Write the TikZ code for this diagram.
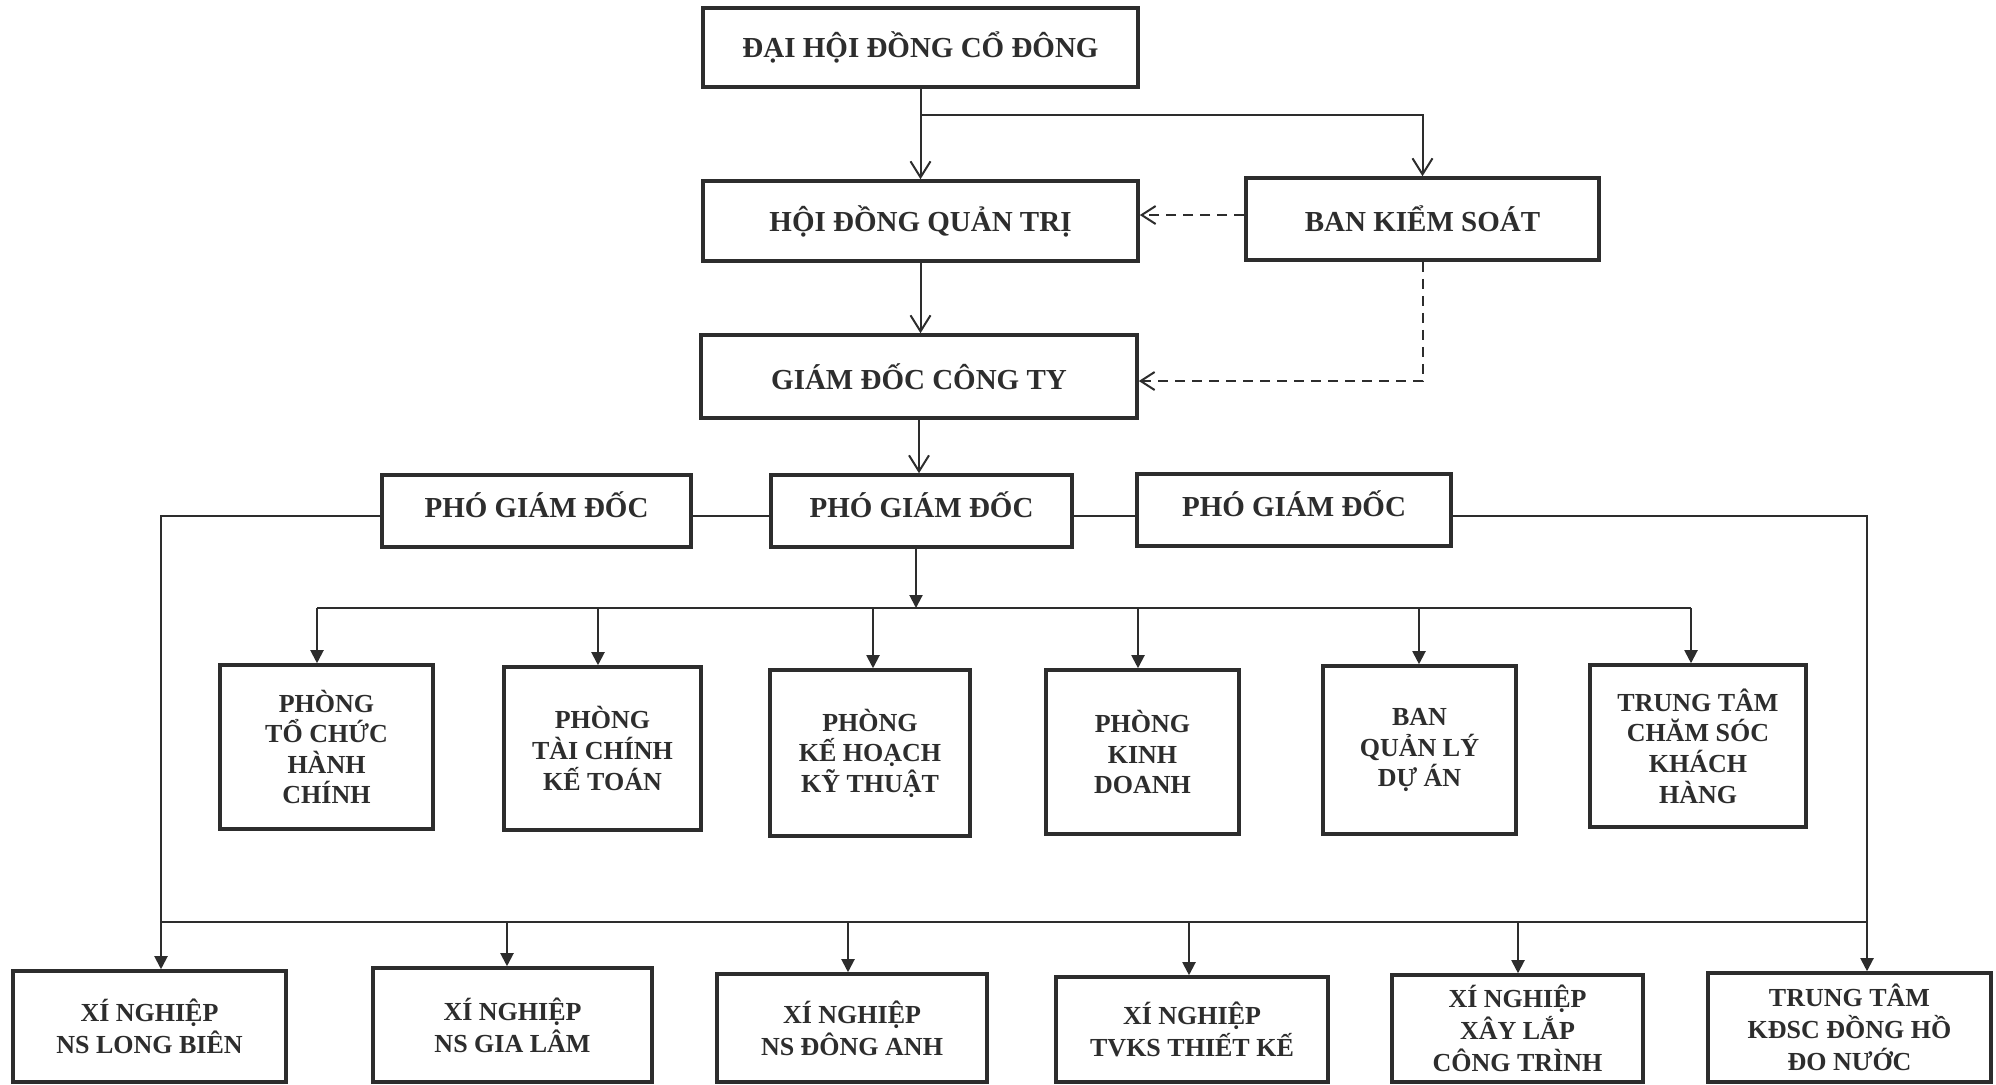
\documentclass[tikz,border=0pt]{standalone}
\usepackage{fontspec}
\setmainfont{Liberation Serif}
\usetikzlibrary{arrows.meta}
\definecolor{ink}{RGB}{45,45,45}
\begin{document}
\begin{tikzpicture}[x=0.5pt,y=-0.5pt,
  box/.style={draw=ink, line width=1.8pt, align=center, inner sep=0pt, text=ink,
    font=\bfseries\fontsize{14.5}{17}\selectfont},
  dept/.style={box, font=\bfseries\fontsize{13}{15.3}\selectfont},
  unitbox/.style={box, font=\bfseries\fontsize{13}{16}\selectfont},
  conn/.style={line width=1pt, draw=ink},
  varrow/.style={conn, -{Straight Barb[length=8pt,width=10pt,line width=1pt]}},
  farrow/.style={conn, -{Triangle[length=6.5pt,width=6.5pt]}},
  darrow/.style={conn, dash pattern=on 5pt off 3.5pt, -{Straight Barb[length=7pt,width=9pt,line width=1pt]}}
]
\useasboundingbox (0,0) rectangle (1996,1084);
\fill[white] (0,0) rectangle (1996,1084);

% top level
\node[box, minimum width=217.5pt, minimum height=39.5pt] (dh) at (920.5,47.5) {ĐẠI HỘI ĐỒNG CỔ ĐÔNG};
\node[box, minimum width=217.5pt, minimum height=40pt] (hd) at (920.5,221) {HỘI ĐỒNG QUẢN TRỊ};
\node[box, minimum width=176.5pt, minimum height=41pt] (bks) at (1422.5,219) {BAN KIỂM SOÁT};
\node[box, minimum width=218pt, minimum height=41.5pt] (gd) at (919,376.5) {GIÁM ĐỐC CÔNG TY};
\node[box, minimum width=154.5pt, minimum height=36pt, text depth=6pt] (pg1) at (536.5,511) {PHÓ GIÁM ĐỐC};
\node[box, minimum width=150.5pt, minimum height=36pt, text depth=6pt] (pg2) at (921.5,511) {PHÓ GIÁM ĐỐC};
\node[box, minimum width=157pt, minimum height=36pt, text depth=6pt] (pg3) at (1294,510) {PHÓ GIÁM ĐỐC};

% departments
\node[dept, minimum width=106.5pt, minimum height=82pt] (d1) at (326.5,747) {PHÒNG\\TỔ CHỨC\\HÀNH\\CHÍNH};
\node[dept, minimum width=98.5pt, minimum height=81.5pt] (d2) at (602.5,748.5) {PHÒNG\\TÀI CHÍNH\\KẾ TOÁN};
\node[dept, minimum width=100pt, minimum height=83pt] (d3) at (870,753) {PHÒNG\\KẾ HOẠCH\\KỸ THUẬT};
\node[dept, minimum width=96.5pt, minimum height=82pt] (d4) at (1142.5,752) {PHÒNG\\KINH\\DOANH};
\node[dept, minimum width=96.5pt, minimum height=84pt] (d5) at (1419.5,750) {BAN\\QUẢN LÝ\\DỰ ÁN};
\node[dept, minimum width=108pt, minimum height=81pt] (d6) at (1698,746) {TRUNG TÂM\\CHĂM SÓC\\KHÁCH\\HÀNG};

% units
\node[unitbox, minimum width=136.5pt, minimum height=55.5pt] (b1) at (149.5,1026.5) {XÍ NGHIỆP\\NS LONG BIÊN};
\node[unitbox, minimum width=139.5pt, minimum height=57pt] (b2) at (512.5,1025) {XÍ NGHIỆP\\NS GIA LÂM};
\node[unitbox, minimum width=135pt, minimum height=54pt] (b3) at (852,1028) {XÍ NGHIỆP\\NS ĐÔNG ANH};
\node[unitbox, minimum width=136pt, minimum height=52.5pt] (b4) at (1192,1029.5) {XÍ NGHIỆP\\TVKS THIẾT KẾ};
\node[unitbox, minimum width=125.5pt, minimum height=53.5pt] (b5) at (1517.5,1028.5) {XÍ NGHIỆP\\XÂY LẮP\\CÔNG TRÌNH};
\node[unitbox, minimum width=141.5pt, minimum height=54.5pt] (b6) at (1849.5,1027.5) {TRUNG TÂM\\KĐSC ĐỒNG HỒ\\ĐO NƯỚC};

% top connectors
\coordinate (t1) at (920.5,115);
\draw[varrow] (dh.south) -- (hd.north);
\draw[varrow] (t1) -| (bks.north);
\draw[darrow] ([yshift=2pt]bks.west) -- ([yshift=3pt]hd.east);
\draw[varrow] (hd.south) -- (hd.south |- gd.north);
\draw[darrow] (bks.south) |- ([yshift=-2.25pt]gd.east);
\draw[varrow] (gd.south) -- (gd.south |- pg2.north);

% deputy links
\draw[conn] ([yshift=-2.5pt]pg1.east) -- ([yshift=-2.5pt]pg2.west);
\draw[conn] ([yshift=-2.5pt]pg2.east) -- ([yshift=-3pt]pg3.west);

% department bus
\coordinate (m) at (916,608);
\coordinate (dl) at (317,608);
\coordinate (dr) at (1691,608);
\coordinate (x2) at (598,608);
\coordinate (x3) at (873,608);
\coordinate (x4) at (1138,608);
\coordinate (x5) at (1419,608);
\draw[farrow] (pg2.south -| m) -- (m);
\draw[conn] (dl) -- (dr);
\draw[farrow] (dl) -- (dl |- d1.north);
\draw[farrow] (x2) -- (x2 |- d2.north);
\draw[farrow] (x3) -- (x3 |- d3.north);
\draw[farrow] (x4) -- (x4 |- d4.north);
\draw[farrow] (x5) -- (x5 |- d5.north);
\draw[farrow] (dr) -- (dr |- d6.north);

% unit bus
\coordinate (lv) at (161,516);
\coordinate (rv) at (1867,516);
\coordinate (bl) at (161,922);
\coordinate (br) at (1867,922);
\coordinate (u2) at (507,922);
\coordinate (u3) at (848,922);
\coordinate (u4) at (1189,922);
\coordinate (u5) at (1518,922);
\draw[farrow] ([yshift=-2.5pt]pg1.west) -| (lv |- b1.north);
\draw[farrow] ([yshift=-3pt]pg3.east) -| (rv |- b6.north);
\draw[conn] (bl) -- (br);
\draw[farrow] (u2) -- (u2 |- b2.north);
\draw[farrow] (u3) -- (u3 |- b3.north);
\draw[farrow] (u4) -- (u4 |- b4.north);
\draw[farrow] (u5) -- (u5 |- b5.north);
\end{tikzpicture}
\end{document}
